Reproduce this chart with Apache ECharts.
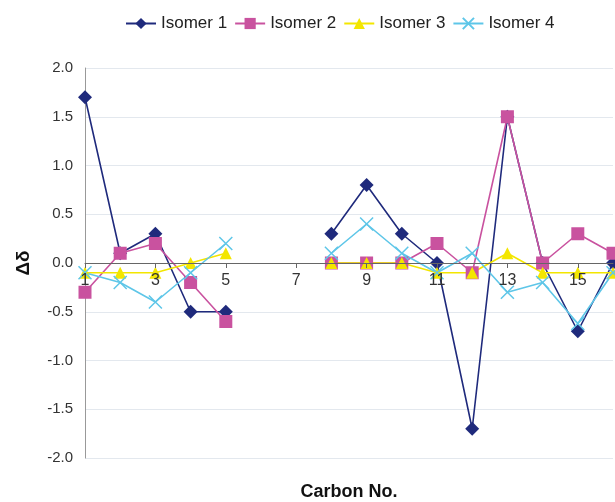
<!DOCTYPE html>
<html><head><meta charset="utf-8">
<script src="https://cdn.jsdelivr.net/npm/echarts@6/dist/echarts.min.js"></script>
<style>html,body{margin:0;padding:0;background:#fff}#c{width:615px;height:502px}</style>
</head><body><div id="c"></div>
<script>
const categories = ['1','2','3','4','5','6','7','8','9','10','11','12','13','14','15','16'];
const isomer1 = [1.7, 0.1, 0.3, -0.5, -0.5, null, null, 0.3, 0.8, 0.3, 0.0, -1.7, 1.5, 0.0, -0.7, 0.0];
const isomer2 = [-0.3, 0.1, 0.2, -0.2, -0.6, null, null, 0.0, 0.0, 0.0, 0.2, -0.1, 1.5, 0.0, 0.3, 0.1];
const isomer3 = [-0.1, -0.1, -0.1, 0.0, 0.1, null, null, 0.0, 0.0, 0.0, -0.1, -0.1, 0.1, -0.1, -0.1, -0.1];
const isomer4 = [-0.1, -0.2, -0.4, -0.1, 0.2, null, null, 0.1, 0.4, 0.1, -0.1, 0.1, -0.3, -0.2, -0.62, -0.1];
const seriesNames = ['Isomer 1','Isomer 2','Isomer 3','Isomer 4'];

const chart = echarts.init(document.getElementById('c'));
const font = 'Liberation Sans, Arial, sans-serif';
function mk(name, data, color, symbol, size, extra) {
  return Object.assign({
    name: name, type: 'line', data: data, connectNulls: false,
    symbol: symbol, symbolSize: size,
    lineStyle: {color: color, width: 1.6},
    itemStyle: {color: color},
    emphasis: {disabled: true},
    animation: false
  }, extra || {});
}
chart.setOption({
  animation: false,
  textStyle: {fontFamily: font},
  legend: {
    top: 10, left: 120,
    itemWidth: 30, itemHeight: 14, itemGap: 7,
    textStyle: {fontSize: 17, color: '#222', fontFamily: font},
    data: seriesNames
  },
  grid: {left: 85, right: 2, top: 68, bottom: 44, containLabel: false, outerBoundsMode: 'none'},
  xAxis: {
    type: 'category', data: categories, boundaryGap: false,
    position: 'bottom', offset: -195, z: 5,
    name: 'Carbon No.', nameLocation: 'middle', nameGap: 220,
    nameTextStyle: {fontSize: 18, fontWeight: 'bold', color: '#111', fontFamily: font},
    axisLine: {onZero: false, lineStyle: {color: '#666', width: 1}},
    axisTick: {show: true, interval: 1, length: 5, lineStyle: {color: '#666'}},
    axisLabel: {interval: 1, fontSize: 16, color: '#333', margin: 10, fontFamily: font},
    splitLine: {show: false}
  },
  yAxis: {
    type: 'value', min: -2, max: 2, interval: 0.5,
    name: 'Δδ', nameLocation: 'middle', nameGap: 52, nameRotate: 90,
    nameTextStyle: {fontSize: 19, fontWeight: 'bold', color: '#111', fontFamily: font},
    axisLine: {show: true, lineStyle: {color: '#999'}},
    axisTick: {show: false},
    axisLabel: {fontSize: 15, color: '#333', margin: 12, fontFamily: font, formatter: v => v.toFixed(1)},
    splitLine: {show: true, lineStyle: {color: '#e3e8ee', width: 1}}
  },
  series: [
    mk('Isomer 1', isomer1, '#1f2a7c', 'diamond', 14),
    mk('Isomer 2', isomer2, '#c9529f', 'rect', 13),
    mk('Isomer 3', isomer3, '#f3e600', 'triangle', 12),
    mk('Isomer 4', isomer4, '#5ec6e8', 'path://M0,0L10,10M10,0L0,10', 13,
       {itemStyle: {color: 'none', borderColor: '#5ec6e8', borderWidth: 1.5}})
  ]
});
</script></body></html>
